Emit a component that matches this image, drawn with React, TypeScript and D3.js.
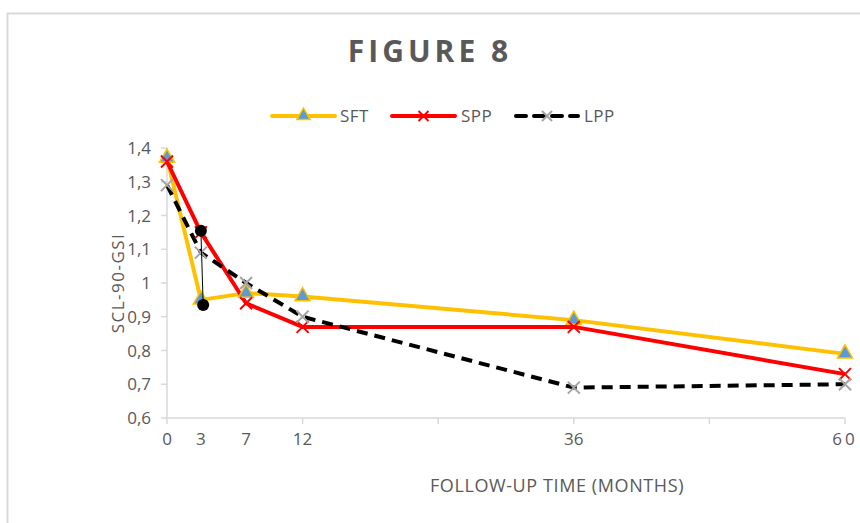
import React from "react";
import * as d3 from "d3";

const months = [0, 3, 7, 12, 36, 60];
const sft = [1.37, 0.95, 0.97, 0.96, 0.89, 0.79];
const spp = [1.36, 1.15, 0.94, 0.87, 0.87, 0.73];
const lpp = [1.29, 1.09, 1.0, 0.9, 0.69, 0.7];
const markX = [3, 3.2];
const markY = [1.155, 0.935];
const xTickMarks = [0, 12, 24, 36, 48, 60];
const xTickLabels = ["0", "3", "7", "12", "36", "60"];
const yTicks = [0.6, 0.7, 0.8, 0.9, 1.0, 1.1, 1.2, 1.3, 1.4];
const seriesNames = ["SFT", "SPP", "LPP"];

const W = 860;
const H = 523;
const FONT = "'Open Sans', 'Liberation Sans', sans-serif";
const GREY = "#595959";
const AXIS = "#d9d9d9";

export default function App() {
  const x = d3.scaleLinear().domain([0, 60]).range([167, 845]);
  const y = d3.scaleLinear().domain([0.6, 1.4]).range([418, 148]);
  const line = d3
    .line<[number, number]>()
    .x((d) => x(d[0]))
    .y((d) => y(d[1]));
  const pts = (vals: number[]) => months.map((m, i) => [m, vals[i]] as [number, number]);
  const fmt = (v: number) => (Math.abs(v - 1) < 1e-9 ? "1" : v.toFixed(1).replace(".", ","));

  const tri = (cx: number, cy: number, s: number) =>
    `M${cx},${cy - s} L${cx + s * 0.95},${cy + s * 0.65} L${cx - s * 0.95},${cy + s * 0.65} Z`;
  const cross = (cx: number, cy: number, s: number) =>
    `M${cx - s},${cy - s} L${cx + s},${cy + s} M${cx - s},${cy + s} L${cx + s},${cy - s}`;

  const legendY = 116;
  const legend = [
    { name: seriesNames[0], x1: 272, x2: 335, tx: 340 },
    { name: seriesNames[1], x1: 392, x2: 455, tx: 461 },
    { name: seriesNames[2], x1: 516, x2: 578, tx: 584 },
  ];

  return (
    <svg width={W} height={H} style={{ position: "absolute", left: 0, top: 0, background: "#fff" }}>
      <rect x={0} y={0} width={W} height={H} fill="#fff" />
      {/* frame */}
      <path d={`M7.5,${H} L7.5,13.5 L${W},13.5`} fill="none" stroke={AXIS} strokeWidth={2} />
      {/* title */}
      <text x={430} y={62} textAnchor="middle" fontFamily={FONT} fontWeight="bold" fontSize={30} fill={GREY} letterSpacing={4}>
        FIGURE 8
      </text>
      {/* legend */}
      {legend.map((l, i) => {
        const cx = (l.x1 + l.x2) / 2;
        return (
          <g key={l.name}>
            {i === 0 && (
              <>
                <line x1={l.x1} x2={l.x2} y1={legendY} y2={legendY} stroke="#FFC000" strokeWidth={4} strokeLinecap="round" />
                <path d={tri(cx, legendY - 1, 7)} fill="#5B9BD5" stroke="#FFC000" strokeWidth={1.5} />
              </>
            )}
            {i === 1 && (
              <>
                <line x1={l.x1} x2={l.x2} y1={legendY} y2={legendY} stroke="#FF0000" strokeWidth={4} strokeLinecap="round" />
                <path d={cross(cx, legendY, 5)} stroke="#FF0000" strokeWidth={2} />
              </>
            )}
            {i === 2 && (
              <>
                <line x1={l.x1} x2={l.x2} y1={legendY} y2={legendY} stroke="#000" strokeWidth={4} strokeDasharray="10,8" strokeLinecap="round" />
                <path d={cross(cx, legendY, 5)} stroke="#A5A5A5" strokeWidth={2} />
              </>
            )}
            <text x={l.tx} y={legendY + 6} fontFamily={FONT} fontSize={17} fill={GREY} letterSpacing={0.5}>
              {l.name}
            </text>
          </g>
        );
      })}
      {/* axes */}
      <line x1={x(0)} x2={x(0)} y1={y(1.4)} y2={y(0.6)} stroke={AXIS} strokeWidth={1.5} />
      <line x1={x(0)} x2={x(60)} y1={y(0.6)} y2={y(0.6)} stroke={AXIS} strokeWidth={1.5} />
      {yTicks.map((t) => (
        <g key={t}>
          <line x1={x(0) - 6} x2={x(0)} y1={y(t)} y2={y(t)} stroke={AXIS} strokeWidth={1.5} />
          <text x={151} y={y(t) + 6} textAnchor="end" fontFamily={FONT} fontSize={17} fill={GREY}>
            {fmt(t)}
          </text>
        </g>
      ))}
      {xTickMarks.map((t) => (
        <line key={t} x1={x(t)} x2={x(t)} y1={y(0.6)} y2={y(0.6) + 6} stroke={AXIS} strokeWidth={1.5} />
      ))}
      {months.map((m, i) => (
        <text key={m} x={x(m)} y={445} textAnchor="middle" fontFamily={FONT} fontSize={17} fill={GREY} letterSpacing={i === 5 ? 3 : 0}>
          {xTickLabels[i]}
        </text>
      ))}
      <text transform={`translate(124,${(y(1.4) + y(0.6)) / 2}) rotate(-90)`} textAnchor="middle" fontFamily={FONT} fontSize={17} fill={GREY} letterSpacing={1.5}>
        SCL-90-GSI
      </text>
      <text x={557} y={492} textAnchor="middle" fontFamily={FONT} fontSize={18} fill={GREY} letterSpacing={0.6}>
        FOLLOW-UP TIME (MONTHS)
      </text>
      {/* series */}
      <path d={line(pts(sft)) || ""} fill="none" stroke="#FFC000" strokeWidth={4} strokeLinejoin="round" />
      <path d={line(pts(spp)) || ""} fill="none" stroke="#FF0000" strokeWidth={4} strokeLinejoin="round" />
      <path d={line(pts(lpp)) || ""} fill="none" stroke="#000" strokeWidth={4} strokeDasharray="11,7" strokeLinejoin="round" />
      {pts(sft).map((p, i) => (
        <path key={"s" + i} d={tri(x(p[0]), y(p[1]) - 1, 8)} fill="#5B9BD5" stroke="#FFC000" strokeWidth={1.5} />
      ))}
      {pts(spp).map((p, i) => (
        <path key={"p" + i} d={cross(x(p[0]), y(p[1]), 6)} stroke="#FF0000" strokeWidth={2} />
      ))}
      {pts(lpp).map((p, i) => (
        <path key={"l" + i} d={cross(x(p[0]), y(p[1]), 6)} stroke="#A5A5A5" strokeWidth={2} />
      ))}
      {/* black annotation markers */}
      <line x1={x(markX[0])} y1={y(markY[0])} x2={x(markX[1])} y2={y(markY[1])} stroke="#000" strokeWidth={1} />
      {markX.map((mx, i) => (
        <circle key={"m" + i} cx={x(mx)} cy={y(markY[i])} r={6} fill="#000" />
      ))}
    </svg>
  );
}
